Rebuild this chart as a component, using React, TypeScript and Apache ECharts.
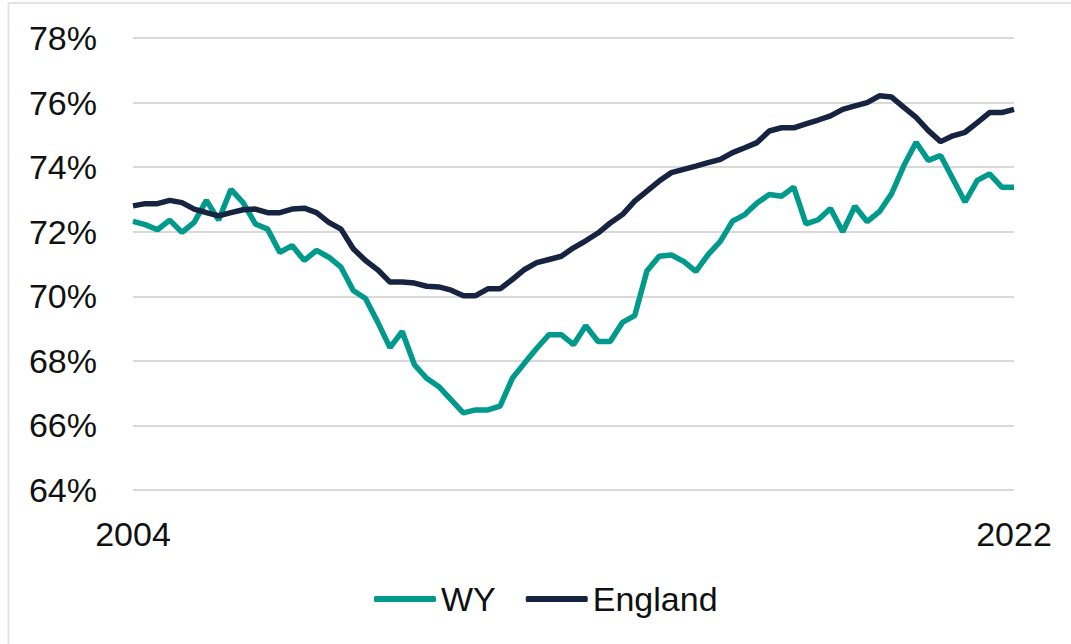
import React, { useEffect, useRef } from "react";
import * as echarts from "echarts";

const startYear = 2004;
const quarterCount = 73;
const categories: string[] = [];
for (let i = 0; i < quarterCount; i++) {
  const y = startYear + Math.floor(i / 4);
  categories.push(`${y} Q${(i % 4) + 1}`);
}
const shownYearLabels = ["2004", "2022"];

const wyValues = [
  72.32, 72.22, 72.06, 72.36, 71.98, 72.29, 72.97, 72.36, 73.31, 72.9,
  72.24, 72.08, 71.36, 71.57, 71.11, 71.42, 71.21, 70.9, 70.18, 69.93,
  69.2, 68.41, 68.91, 67.88, 67.46, 67.2, 66.79, 66.39, 66.48, 66.48,
  66.6, 67.46, 67.93, 68.39, 68.81, 68.81, 68.5, 69.09, 68.6, 68.6,
  69.19, 69.4, 70.78, 71.24, 71.28, 71.08, 70.77, 71.29, 71.7, 72.33,
  72.53, 72.89, 73.15, 73.1, 73.38, 72.24, 72.37, 72.72, 72.0, 72.79,
  72.31, 72.62, 73.18, 74.05, 74.77, 74.21, 74.36, 73.64, 72.92, 73.59,
  73.79, 73.38, 73.38,
];

const englandValues = [
  72.8, 72.87, 72.87, 72.97, 72.9, 72.7, 72.59, 72.49, 72.59, 72.68,
  72.7, 72.59, 72.59, 72.7, 72.73, 72.59, 72.29, 72.08, 71.47, 71.11,
  70.82, 70.44, 70.44, 70.41, 70.31, 70.29, 70.19, 70.02, 70.02, 70.23,
  70.23, 70.52, 70.83, 71.04, 71.14, 71.24, 71.5, 71.72, 71.96, 72.27,
  72.53, 72.95, 73.26, 73.57, 73.83, 73.93, 74.03, 74.14, 74.24, 74.45,
  74.6, 74.76, 75.12, 75.22, 75.22, 75.34, 75.46, 75.59, 75.79, 75.9,
  76.0, 76.21, 76.17, 75.85, 75.54, 75.13, 74.79, 74.97, 75.08, 75.38,
  75.69, 75.69, 75.79,
];

const WY_COLOR = "#009a8c";
const ENG_COLOR = "#172441";
const FONT = "'Liberation Sans', Arial, sans-serif";

export default function App() {
  const ref = useRef<HTMLDivElement>(null);
  useEffect(() => {
    document.body.style.margin = "0";
    if (!ref.current) return;
    const chart = echarts.init(ref.current, undefined, { renderer: "svg" });
    chart.setOption({
      animation: false,
      backgroundColor: "#ffffff",
      textStyle: { fontFamily: FONT },
      graphic: [
        { type: "line", shape: { x1: 8, y1: 3, x2: 1071, y2: 3 }, style: { stroke: "#e3e3e3", lineWidth: 2 } },
        { type: "line", shape: { x1: 8.5, y1: 3, x2: 8.5, y2: 644 }, style: { stroke: "#e3e3e3", lineWidth: 2 } },
      ],
      grid: { left: 133, right: 57, top: 38, bottom: 154, containLabel: false },
      xAxis: {
        type: "category",
        data: categories,
        boundaryGap: false,
        axisLine: { show: false },
        axisTick: { show: false },
        splitLine: { show: false },
        axisLabel: {
          interval: (idx: number) => idx === 0 || idx === categories.length - 1,
          formatter: (v: string) => {
            const y = v.slice(0, 4);
            return shownYearLabels.includes(y) ? y : "";
          },
          fontSize: 34,
          color: "#111",
          fontFamily: FONT,
          margin: 27,
          showMinLabel: true,
          showMaxLabel: true,
        },
      },
      yAxis: {
        type: "value",
        min: 64,
        max: 78,
        interval: 2,
        axisLine: { show: false },
        axisTick: { show: false },
        splitLine: { lineStyle: { color: "#d9d9d9", width: 2 } },
        axisLabel: {
          formatter: (v: number) => `${v}%`,
          fontSize: 34,
          color: "#111",
          fontFamily: FONT,
          margin: 36,
        },
      },
      legend: {
        left: 369,
        top: 577,
        icon: "roundRect",
        itemWidth: 62,
        itemHeight: 6,
        itemGap: 30,
        textStyle: { fontSize: 34, color: "#111", fontFamily: FONT },
        data: ["WY", "England"],
      },
      series: [
        {
          name: "WY",
          type: "line",
          data: wyValues,
          showSymbol: false,
          symbol: "none",
          lineStyle: { color: WY_COLOR, width: 5.5 },
          itemStyle: { color: WY_COLOR },
        },
        {
          name: "England",
          type: "line",
          data: englandValues,
          showSymbol: false,
          symbol: "none",
          lineStyle: { color: ENG_COLOR, width: 5.5 },
          itemStyle: { color: ENG_COLOR },
        },
      ],
    });
    return () => chart.dispose();
  }, []);
  return <div ref={ref} style={{ width: 1071, height: 644 }} />;
}
